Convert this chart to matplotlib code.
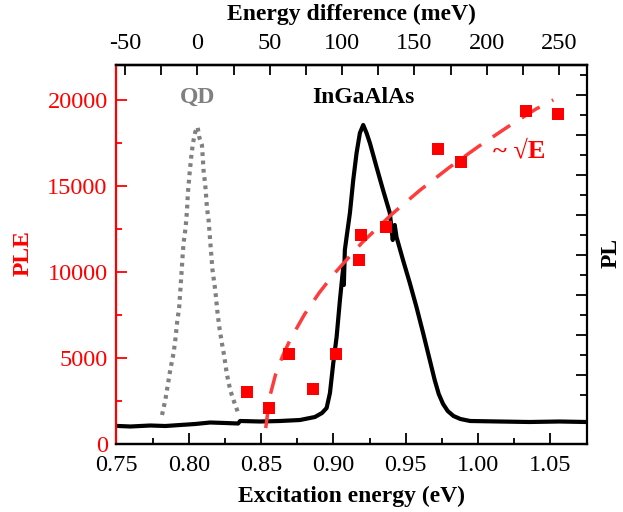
import numpy as np
import matplotlib
matplotlib.use("Agg")
import matplotlib.pyplot as plt
from matplotlib.ticker import MultipleLocator, FixedLocator, NullFormatter, FuncFormatter

plt.rcParams['font.family'] = ['Liberation Serif', 'DejaVu Serif']

# ---------------- data ----------------
# PLE (red squares)
ple_E = [0.840, 0.8555, 0.8695, 0.8857, 0.9015, 0.9176, 0.919, 0.936,
         0.9726, 0.9884, 1.0332, 1.0555]
ple_I = [3016, 2085, 5193, 3173, 5211, 10683, 12156, 12622,
         17146, 16406, 19358, 19201]

# ~sqrt(E) guide (red dashed)
fit_E = [0.8532, 0.856, 0.860, 0.865, 0.870, 0.880, 0.890, 0.900, 0.920,
         0.940, 0.960, 0.980, 1.000, 1.020, 1.040, 1.052]
fit_I = [900, 2725, 4016, 5119, 6024, 7513, 8753, 9837, 11709,
         13320, 14756, 16064, 17274, 18403, 19469, 20000]

# InGaAlAs PL (black), arbitrary units
pl_E = [0.7514, 0.7597, 0.7734, 0.7838, 0.7941, 0.8045, 0.8148, 0.8252, 0.8341,
        0.8355, 0.8493, 0.8631, 0.8769, 0.8872, 0.8921, 0.8953, 0.8976, 0.8999,
        0.9022, 0.9045, 0.9068, 0.9072, 0.9079, 0.9091, 0.9114, 0.9137, 0.9160,
        0.9183, 0.9206, 0.9229, 0.9252, 0.9298, 0.9343, 0.9390, 0.9410, 0.9424,
        0.9436, 0.9481, 0.9528, 0.9574, 0.9620, 0.9666, 0.9700, 0.9728, 0.9758,
        0.9790, 0.9830, 0.9878, 0.9945, 1.0148, 1.0355, 1.0562, 1.0748]
pl_I = [1.45, 1.425, 1.475, 1.45, 1.5, 1.55, 1.625, 1.6, 1.575,
        1.7, 1.675, 1.7, 1.75, 1.9, 2.1, 2.35, 3.1, 4.6,
        5.9, 7.75, 9.4, 8.5, 10.25, 10.9, 12.1, 13.75, 15.1,
        16.1, 16.5, 16.1, 15.6, 14.4, 13.25, 12.1, 10.75, 11.5,
        10.9, 9.75, 8.6, 7.4, 6.1, 4.75, 3.75, 3.05, 2.55,
        2.2, 1.95, 1.8, 1.7, 1.675, 1.65, 1.675, 1.65]

# QD PL (grey dotted), arbitrary units
qd_E = [0.7815, 0.7838, 0.7872, 0.7895, 0.7907, 0.7919, 0.7934, 0.7941, 0.7948,
        0.7957, 0.7964, 0.7978, 0.7988, 0.7994, 0.8006, 0.8017, 0.8029, 0.8045,
        0.8061, 0.8074, 0.8091, 0.8098, 0.8102, 0.8114, 0.8126, 0.8137, 0.8153,
        0.8164, 0.8183, 0.8199, 0.8212, 0.8229, 0.8245, 0.8259, 0.8274, 0.8291,
        0.8314, 0.8339]
qd_I = [2.0, 2.75, 4.25, 5.1, 5.75, 6.6, 7.4, 8.15, 8.9,
        9.9, 10.6, 11.35, 12.25, 13.1, 14.1, 14.9, 15.6, 16.15,
        16.4, 15.85, 15.5, 14.75, 14.25, 13.5, 12.35, 11.75, 10.25,
        9.25, 8.25, 7.1, 6.35, 5.6, 4.95, 4.25, 3.65, 3.15,
        2.65, 2.15]

E_QD = 0.806  # reference energy for top axis (eV)

# ---------------- figure ----------------
W, H = 623, 512
fig = plt.figure(figsize=(W / 100, H / 100), dpi=100)
L, R, T, B = 116, 587.3, 64.7, 443.5
ax = fig.add_axes([L / W, 1 - B / H, (R - L) / W, (B - T) / H])
ax2 = ax.twinx()
ax.set_zorder(ax2.get_zorder() + 1)
ax.patch.set_visible(False)

fs = 17.5
lfs = 17
red = '#ff0000'

# PL curves on right axis
ax2.plot(pl_E, pl_I, color='black', lw=3.0, solid_joinstyle='round')
ax2.plot(qd_E, qd_I, color='#808080', lw=3.0, linestyle=(0, (0.9, 1.1)))
ax2.set_ylim(0.575, 19.515)
ax2.yaxis.set_major_locator(FixedLocator(np.arange(4, 19, 2)))
ax2.yaxis.set_minor_locator(FixedLocator(np.arange(3, 20, 2)))
ax2.yaxis.set_major_formatter(NullFormatter())
ax2.tick_params(axis='y', which='major', direction='in', length=8, width=1.3, right=True, left=False)
ax2.tick_params(axis='y', which='minor', direction='in', length=5, width=1.3, right=True, left=False)
for s in ax2.spines.values():
    s.set_linewidth(1.6)
ax2.spines['left'].set_visible(False)

# PLE on left axis
ax.plot(fit_E, fit_I, color='#ff3b3b', lw=2.5, linestyle=(0, (6.0, 4.0)))
ax.plot(ple_E, ple_I, linestyle='none', marker='s', markersize=8.5,
        color=red, markeredgewidth=0)
ax.set_xlim(0.7497, 1.0755)
ax.set_ylim(0, 22050)
ax.xaxis.set_major_locator(MultipleLocator(0.05))
ax.xaxis.set_minor_locator(MultipleLocator(0.025))
ax.yaxis.set_major_locator(MultipleLocator(5000))
ax.yaxis.set_minor_locator(MultipleLocator(2500))
ax.xaxis.set_major_formatter(FuncFormatter(lambda v, p: f"{v:.2f}"))
ax.tick_params(axis='x', which='major', direction='in', length=8, width=1.3, labelsize=fs, pad=8, top=False)
ax.tick_params(axis='x', which='minor', direction='in', length=4.5, width=1.3, top=False)
ax.tick_params(axis='y', which='major', direction='in', length=8, width=1.3, labelsize=fs,
               colors=red, pad=6, right=False)
ax.tick_params(axis='y', which='minor', direction='in', length=4.5, width=1.3, colors=red, right=False)
for s in ax.spines.values():
    s.set_linewidth(1.6)
ax.spines['left'].set_color(red)
ax.spines['right'].set_visible(False)

# top axis
sec = ax.secondary_xaxis('top', functions=(lambda e: (e - E_QD) * 1000,
                                           lambda d: d / 1000 + E_QD))
sec.xaxis.set_major_locator(FixedLocator(np.arange(-50, 251, 50)))
sec.xaxis.set_minor_locator(FixedLocator(np.arange(-25, 276, 50)))
sec.xaxis.set_major_formatter(FuncFormatter(lambda v, p: f"{int(round(v))}"))
sec.tick_params(axis='x', which='both', direction='in', length=7, width=1.3, labelsize=fs, pad=8)
sec.spines['top'].set_linewidth(1.6)

ax.set_xlabel('Excitation energy (eV)', fontsize=lfs, fontweight='bold', labelpad=4)
fig.text(351.5 / W, 1 - 496.5 / H, 'Excitation energy (eV)', fontsize=lfs,
         fontweight='bold', ha='center', va='center', alpha=0)
ax.xaxis.label.set_visible(False)
fig.text(351.5 / W, 1 - 496.5 / H, 'Excitation energy (eV)', fontsize=lfs,
         fontweight='bold', ha='center', va='center')
fig.text(351.5 / W, 1 - 14 / H, 'Energy difference (meV)', fontsize=lfs,
         fontweight='bold', ha='center', va='center')

fig.text(23 / W, 1 - 253 / H, 'PLE', rotation=90, color=red, fontsize=lfs,
         fontweight='bold', ha='center', va='center')
fig.text(611 / W, 1 - 253 / H, 'PL', rotation=90, color='black', fontsize=lfs,
         fontweight='bold', ha='center', va='center')

ax.text(0.806, 20170, 'QD', color='#808080', fontsize=lfs, fontweight='bold',
        ha='center', va='center')
ax.text(0.9205, 20120, 'InGaAlAs', color='black', fontsize=lfs, fontweight='bold',
        ha='center', va='center')
ax.text(1.0285, 17050, '~ √E', color=red, fontsize=19, fontweight='bold',
        ha='center', va='center')

fig.savefig('out.png', dpi=100)
